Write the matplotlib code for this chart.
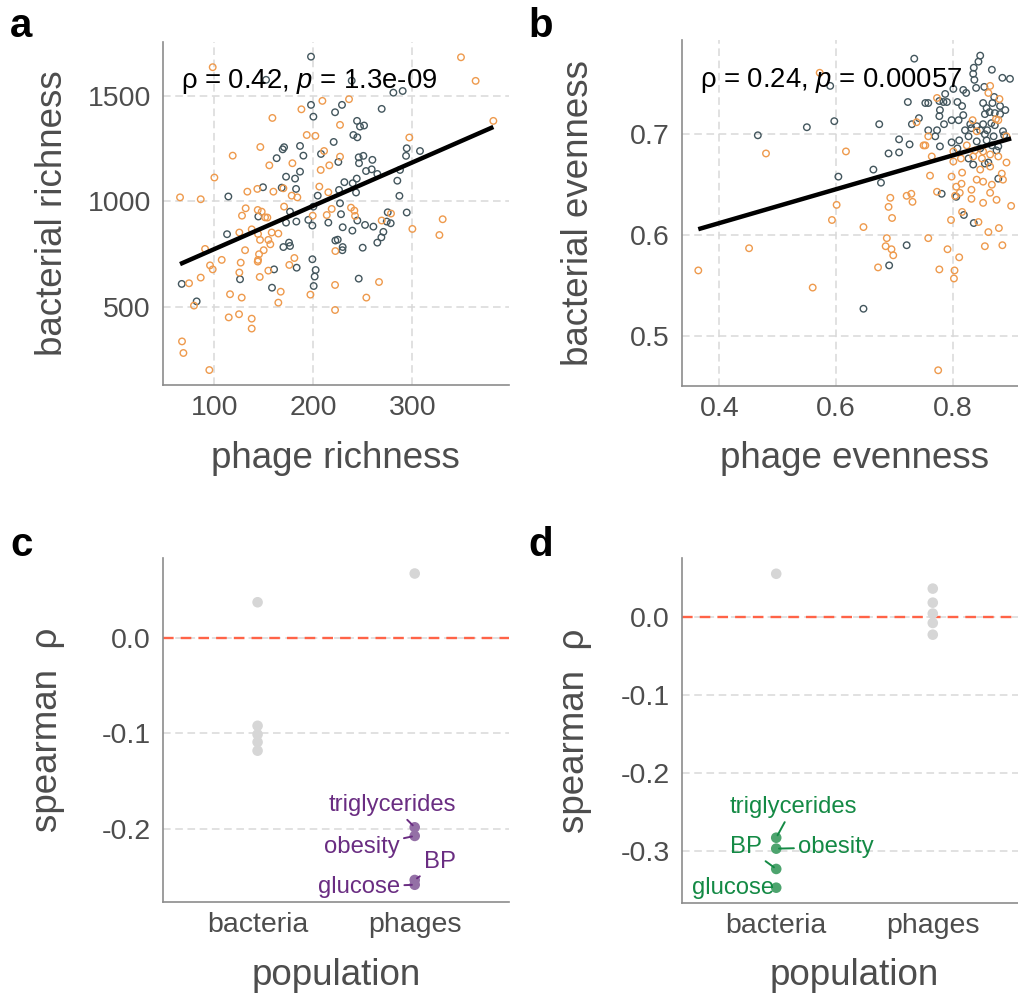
import numpy as np
import matplotlib
matplotlib.use("Agg")
import matplotlib.pyplot as plt

plt.rcParams["font.family"] = ["Liberation Sans", "DejaVu Sans"]
plt.rcParams["mathtext.fontset"] = "custom"
plt.rcParams["mathtext.rm"] = "Liberation Sans"
plt.rcParams["mathtext.it"] = "Liberation Sans:italic"
plt.rcParams["axes.unicode_minus"] = False

# --- panel a: richness (two sample groups) ---
a_dark_x = [197.7, 152.3, 238.8, 280.9, 290.3, 197.7, 200.1, 222.0, 229.0, 269.1,
            244.2, 247.2, 251.3, 240.5, 244.5, 220.6, 170.5, 169.1, 186.6, 294.4,
            307.8, 190.0, 163.0, 207.8, 245.9, 250.6, 259.7, 293.7, 225.3, 246.2,
            186.6, 253.3, 259.0, 264.7, 287.6, 172.5, 181.6, 243.9, 231.4, 239.8,
            284.9, 149.2, 168.1, 182.6, 226.0, 243.2, 114.2, 204.5, 287.0, 176.5,
            227.0, 144.5, 200.1, 228.0, 275.2, 294.4, 195.0, 172.5, 182.9, 199.1,
            215.2, 244.5, 274.2, 278.2, 252.3, 260.7, 229.7, 239.5, 112.9, 270.8,
            268.8, 222.3, 224.7, 264.7, 175.5, 169.8, 176.5, 229.7, 229.4, 249.9,
            199.1, 183.2, 160.4, 202.4, 126.0, 201.4, 245.9, 67.1, 158.3, 200.4, 82.2]
a_dark_y = [1687, 1577, 1573, 1516, 1524, 1458, 1402, 1423, 1458, 1439,
            1382, 1355, 1360, 1315, 1304, 1282, 1257, 1247, 1263, 1252,
            1239, 1217, 1205, 1225, 1209, 1216, 1197, 1216, 1187, 1181,
            1141, 1144, 1152, 1130, 1149, 1117, 1108, 1108, 1091, 1086,
            1098, 1067, 1065, 1059, 1054, 1042, 1023, 1027, 1026, 951,
            991, 928, 975, 939, 948, 947, 912, 899, 904, 885,
            899, 909, 904, 896, 888, 880, 877, 861, 844, 855,
            829, 814, 818, 804, 804, 783, 788, 783, 768, 780,
            725, 685, 677, 674, 630, 643, 633, 608, 590, 598, 525]
a_orange_x = [349.2, 98.4, 364.0, 236.1, 209.2, 188.0, 158.7, 381.9, 227.0, 193.4,
              202.1, 297.0, 146.5, 118.6, 210.9, 227.0, 155.6, 178.9, 216.2, 207.5,
              100.1, 143.5, 169.8, 206.1, 133.4, 159.7, 215.2, 65.4, 86.3, 178.2,
              183.9, 131.7, 170.5, 143.9, 218.6, 238.1, 128.0, 147.9, 151.3, 153.6,
              199.4, 213.6, 241.5, 242.2, 278.5, 330.7, 269.1, 300.1, 125.3, 137.8,
              144.2, 158.0, 164.7, 327.4, 146.2, 154.6, 90.7, 131.1, 156.6, 149.9,
              222.3, 107.5, 145.2, 144.2, 143.9, 126.7, 180.9, 95.7, 98.4, 175.8,
              125.3, 154.6, 86.3, 145.9, 266.4, 74.5, 222.0, 167.1, 115.9, 127.7,
              197.1, 253.6, 79.5, 164.7, 222.0, 125.0, 114.6, 137.8, 137.8, 67.4,
              68.8, 95.0]
a_orange_y = [1684, 1637, 1572, 1485, 1477, 1437, 1396, 1382, 1363, 1315,
              1311, 1303, 1258, 1217, 1239, 1212, 1171, 1181, 1171, 1149,
              1113, 1059, 1062, 1070, 1046, 1046, 1043, 1019, 1010, 1027,
              1019, 967, 975, 959, 964, 970, 932, 951, 924, 923,
              932, 935, 956, 931, 942, 915, 909, 869, 852, 867,
              845, 852, 847, 840, 817, 817, 774, 768, 796, 768,
              764, 722, 749, 722, 714, 709, 731, 696, 677, 698,
              662, 671, 638, 641, 617, 611, 603, 571, 559, 543,
              557, 543, 505, 519, 484, 464, 449, 443, 396, 335,
              280, 199]

# --- panel b: evenness ---
b_dark_x = [0.847, 0.844, 0.734, 0.836, 0.867, 0.835, 0.837, 0.885, 0.898, 0.590,
            0.801, 0.818, 0.840, 0.854, 0.823, 0.787, 0.871, 0.777, 0.784, 0.790,
            0.723, 0.753, 0.758, 0.808, 0.852, 0.868, 0.816, 0.778, 0.858, 0.881,
            0.890, 0.863, 0.872, 0.777, 0.818, 0.855, 0.881, 0.597, 0.674, 0.730,
            0.742, 0.785, 0.798, 0.810, 0.830, 0.841, 0.852, 0.866, 0.872, 0.550,
            0.758, 0.773, 0.770, 0.821, 0.832, 0.847, 0.859, 0.886, 0.888, 0.855,
            0.870, 0.466, 0.708, 0.798, 0.811, 0.827, 0.841, 0.858, 0.726, 0.778,
            0.808, 0.867, 0.878, 0.690, 0.708, 0.847, 0.875, 0.827, 0.835, 0.855,
            0.861, 0.604, 0.664, 0.677, 0.878, 0.781, 0.806, 0.819, 0.836, 0.721,
            0.691, 0.647]
b_dark_y = [0.778, 0.772, 0.775, 0.766, 0.764, 0.760, 0.754, 0.756, 0.755, 0.748,
            0.745, 0.744, 0.746, 0.747, 0.741, 0.740, 0.737, 0.733, 0.732, 0.732,
            0.732, 0.731, 0.731, 0.732, 0.731, 0.731, 0.728, 0.724, 0.726, 0.728,
            0.724, 0.722, 0.721, 0.718, 0.719, 0.720, 0.720, 0.713, 0.710, 0.710,
            0.716, 0.710, 0.714, 0.714, 0.710, 0.708, 0.710, 0.711, 0.709, 0.707,
            0.704, 0.704, 0.698, 0.704, 0.706, 0.704, 0.704, 0.703, 0.699, 0.700,
            0.698, 0.699, 0.695, 0.692, 0.694, 0.698, 0.693, 0.694, 0.690, 0.688,
            0.686, 0.689, 0.688, 0.681, 0.682, 0.686, 0.684, 0.676, 0.670, 0.671,
            0.672, 0.658, 0.665, 0.652, 0.656, 0.641, 0.638, 0.620, 0.612, 0.590,
            0.570, 0.527]
b_orange_x = [0.572, 0.864, 0.861, 0.773, 0.880, 0.874, 0.878, 0.834, 0.738, 0.841,
              0.758, 0.750, 0.753, 0.892, 0.801, 0.824, 0.838, 0.852, 0.878, 0.480,
              0.617, 0.764, 0.801, 0.814, 0.835, 0.850, 0.864, 0.892, 0.864, 0.847,
              0.816, 0.761, 0.798, 0.841, 0.852, 0.867, 0.815, 0.806, 0.884, 0.886,
              0.773, 0.812, 0.832, 0.864, 0.721, 0.729, 0.693, 0.731, 0.804, 0.832,
              0.852, 0.875, 0.900, 0.690, 0.601, 0.696, 0.593, 0.797, 0.816, 0.844,
              0.647, 0.758, 0.687, 0.861, 0.879, 0.685, 0.695, 0.698, 0.451, 0.791,
              0.855, 0.885, 0.811, 0.672, 0.777, 0.803, 0.802, 0.364, 0.560, 0.775]
b_orange_y = [0.761, 0.748, 0.741, 0.736, 0.735, 0.715, 0.714, 0.714, 0.712, 0.703,
              0.698, 0.689, 0.689, 0.698, 0.683, 0.689, 0.684, 0.683, 0.678, 0.681,
              0.683, 0.678, 0.673, 0.676, 0.678, 0.676, 0.680, 0.672, 0.668, 0.665,
              0.662, 0.659, 0.658, 0.655, 0.653, 0.650, 0.651, 0.648, 0.661, 0.655,
              0.643, 0.642, 0.645, 0.642, 0.639, 0.641, 0.637, 0.633, 0.639, 0.636,
              0.632, 0.635, 0.629, 0.628, 0.630, 0.617, 0.615, 0.615, 0.623, 0.613,
              0.608, 0.597, 0.597, 0.603, 0.607, 0.589, 0.586, 0.580, 0.587, 0.586,
              0.589, 0.590, 0.578, 0.568, 0.566, 0.565, 0.557, 0.565, 0.548, 0.466]

a_stat = r"ρ = 0.42, $p$ = 1.3e-09"
b_stat = r"ρ = 0.24, $p$ = 0.00057"

# --- panels c, d: spearman rho of traits vs richness ---
populations = ["bacteria", "phages"]
c_rho = {"bacteria": [0.037, -0.092, -0.101, -0.109, -0.118],
         "phages": [0.067, -0.198, -0.207, -0.253, -0.258]}
c_lab = {"bacteria": [None] * 5,
         "phages": [None, "triglycerides", "obesity", "BP", "glucose"]}
d_rho = {"bacteria": [0.055, -0.283, -0.297, -0.323, -0.347],
         "phages": [0.036, 0.018, 0.004, -0.008, -0.023]}
d_lab = {"bacteria": [None, "triglycerides", "obesity", "BP", "glucose"],
         "phages": [None] * 5}

# label offsets (points) for the repelled labels; None = no connector
c_off = {"triglycerides": (-16, 16, True), "obesity": (-38, -8, True),
         "BP": (18, 13, True), "glucose": (-40, -1.5, True)}
d_off = {"triglycerides": (12, 22, True), "obesity": (43, 1, True),
         "BP": (-22, 16, True), "glucose": (-31, -0.5, False)}

ORANGE = "#EE9A4D"
DARK = "#43565D"
TXT = "#4D4D4D"
SPINE = "#8C8C8C"
GRID = "#D9D9D9"

W, H = 1018, 993
fig = plt.figure(figsize=(W / 100, H / 100), dpi=100)


def px_axes(left, top, right, bottom):
    return fig.add_axes([left / W, 1 - bottom / H, (right - left) / W, (bottom - top) / H])


def style(ax, grid_axis="both"):
    for s in ["top", "right"]:
        ax.spines[s].set_visible(False)
    for s in ["left", "bottom"]:
        ax.spines[s].set_color(SPINE)
        ax.spines[s].set_linewidth(1.2)
    ax.tick_params(length=0, labelsize=20.5, labelcolor=TXT)
    ax.tick_params(axis="y", pad=9)
    ax.tick_params(axis="x", pad=7)
    ax.grid(axis=grid_axis, color=GRID, lw=1.1, ls=(0, (5, 3)))
    ax.set_axisbelow(True)


def titles(ax, xlab, ylab, xbase_px, ybase_px):
    # place axis titles by their text baseline (pixel positions of the figure)
    pos = ax.get_position()
    ax.set_xlabel(xlab, fontsize=26.5, color=TXT)
    ax.set_ylabel(ylab, fontsize=26.5, color=TXT)
    ax.xaxis.label.set_verticalalignment("baseline")
    ax.yaxis.label.set_verticalalignment("baseline")
    x0, w = pos.x0 * W, pos.width * W
    y1, h = (1 - pos.y0) * H, pos.height * H
    ax.xaxis.set_label_coords(0.5, (y1 - xbase_px) / h)
    ax.yaxis.set_label_coords((ybase_px - x0) / w, 0.5)


def scatter_panel(ax, dx, dy, ox, oy, stat):
    ax.scatter(dx, dy, s=22, facecolors="none", edgecolors=DARK, linewidths=1.0, zorder=3)
    ax.scatter(ox, oy, s=22, facecolors="none", edgecolors=ORANGE, linewidths=1.0, zorder=3)
    allx = np.array(dx + ox)
    ally = np.array(dy + oy)
    k, b = np.polyfit(allx, ally, 1)
    xs = np.array([allx.min(), allx.max()])
    ax.plot(xs, k * xs + b, color="black", lw=3.2, zorder=4, solid_capstyle="butt")
    ax.text(0.05, 0.885, stat, transform=ax.transAxes, fontsize=19.8, color="black",
            va="center", ha="left", zorder=5)


# panel a
ax_a = px_axes(163.3, 41.7, 508.5, 385)
style(ax_a)
scatter_panel(ax_a, a_dark_x, a_dark_y, a_orange_x, a_orange_y, a_stat)
ax_a.set_xlim(48.5, 397.2)
ax_a.set_ylim(128, 1758)
ax_a.set_xticks([100, 200, 300])
ax_a.set_yticks([500, 1000, 1500])
titles(ax_a, "phage richness", "bacterial richness", 468, 62)

# panel b
ax_b = px_axes(682.3, 40.3, 1026.6, 386.4)
style(ax_b)
scatter_panel(ax_b, b_dark_x, b_dark_y, b_orange_x, b_orange_y, b_stat)
ax_b.set_xlim(0.3366, 0.9265)
ax_b.set_ylim(0.450, 0.7932)
ax_b.set_xticks([0.4, 0.6, 0.8])
ax_b.set_yticks([0.5, 0.6, 0.7])
ax_b.xaxis.set_major_formatter("{x:.1f}")
ax_b.yaxis.set_major_formatter("{x:.1f}")
titles(ax_b, "phage evenness", "bacterial evenness", 468, 588)


def rho_panel(ax, rho, labs, offs, pt_col, txt_col):
    ax.axhline(0, color="#FF6347", lw=1.7, ls=(0, (4.5, 3)), zorder=2)
    for i, pop in enumerate(populations):
        xpos = i + 1
        for r, lab in zip(rho[pop], labs[pop]):
            col = "#D6D6D6" if lab is None else pt_col
            ax.scatter([xpos], [r], s=58, color=col, edgecolors="none", zorder=4)
            if lab is not None:
                dx, dy, line = offs[lab]
                arrow = dict(arrowstyle="-", color=txt_col, lw=1.4, shrinkA=1, shrinkB=2) if line else None
                ax.annotate(lab, xy=(xpos, r), xytext=(dx, dy), textcoords="offset points",
                            ha="center", va="center", fontsize=17.2, color=txt_col, zorder=5,
                            arrowprops=arrow)
    ax.set_xlim(0.4, 2.6)
    ax.set_xticks([1, 2])
    ax.set_xticklabels(populations)
    ax.yaxis.set_major_formatter("{x:.1f}")


# panel c
ax_c = px_axes(163.3, 558, 509, 902)
style(ax_c, "y")
rho_panel(ax_c, c_rho, c_lab, c_off, "#9470A6", "#6A2D82")
ax_c.set_ylim(-0.276, 0.0832)
ax_c.set_yticks([-0.2, -0.1, 0.0])
titles(ax_c, "population", "spearman  ρ", 985, 57)

# panel d
ax_d = px_axes(682.3, 558.3, 1026.7, 903)
style(ax_d, "y")
rho_panel(ax_d, d_rho, d_lab, d_off, "#4DA46E", "#148A45")
ax_d.set_ylim(-0.3666, 0.0748)
ax_d.set_yticks([-0.3, -0.2, -0.1, 0.0])
titles(ax_d, "population", "spearman  ρ", 985, 584)

for letter, x, y in [("a", 10, 37), ("b", 528, 37), ("c", 10, 556), ("d", 528, 556)]:
    fig.text(x / W, 1 - y / H, letter, fontsize=29, fontweight="bold", color="black",
             ha="left", va="baseline")

fig.savefig("out.png", dpi=100)
